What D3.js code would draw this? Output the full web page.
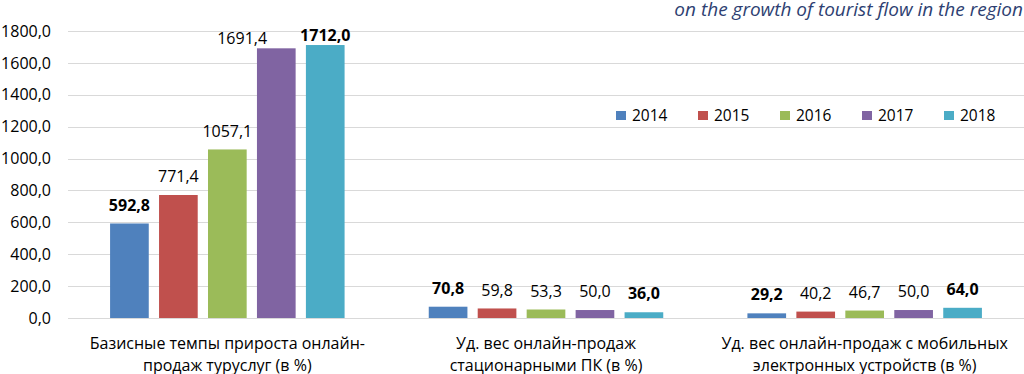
<!DOCTYPE html>
<html><head><meta charset="utf-8">
<script src="https://cdn.jsdelivr.net/npm/d3@7"></script>
<style>body{margin:0;background:#fff}svg{display:block}</style>
</head><body><svg id="c" width="1024" height="374"></svg>
<script>
const categories = [
  ["Базисные темпы прироста онлайн-", "продаж туруслуг (в %)"],
  ["Уд. вес онлайн-продаж", "стационарными ПК (в %)"],
  ["Уд. вес онлайн-продаж с мобильных", "электронных устройств (в %)"]
];
const years = ["2014", "2015", "2016", "2017", "2018"];
const v2014 = [592.8, 70.8, 29.2];
const v2015 = [771.4, 59.8, 40.2];
const v2016 = [1057.1, 53.3, 46.7];
const v2017 = [1691.4, 50.0, 50.0];
const v2018 = [1712.0, 36.0, 64.0];
const yTicks = [0, 200, 400, 600, 800, 1000, 1200, 1400, 1600, 1800];
const colors = ["#4f81bd", "#c0504d", "#9bbb59", "#8064a2", "#4bacc6"];
const note = "on the growth of tourist flow in the region";

const series = [v2014, v2015, v2016, v2017, v2018];
const svg = d3.select("#c");
const font = "Open Sans, sans-serif";
const fmt = v => v.toFixed(1).replace(".", ",");

const x0 = d3.scaleBand().domain(d3.range(categories.length)).range([68, 1024]).padding(0);
const innerW = 5 * 49 - 10.5;
const x1 = d3.scaleBand().domain(d3.range(years.length))
  .range([(x0.bandwidth() - innerW) / 2, (x0.bandwidth() + innerW) / 2]).paddingInner(0.21).paddingOuter(0);
const y = d3.scaleLinear().domain([0, 1800]).range([318, 31]);

// gridlines
svg.append("g").selectAll("line").data(yTicks).join("line")
  .attr("x1", 68).attr("x2", 1024)
  .attr("y1", d => Math.round(y(d)) + 0.5).attr("y2", d => Math.round(y(d)) + 0.5)
  .attr("stroke", "#d9d9d9").attr("stroke-width", 1);

// y axis labels
const yAxis = d3.axisLeft(y).tickValues(yTicks).tickFormat(fmt).tickSize(0).tickPadding(0);
const ga = svg.append("g").attr("transform", "translate(51,0)").call(yAxis);
ga.select(".domain").remove();
ga.selectAll("text").attr("font-family", font).attr("font-size", 16).attr("fill", "#000");

// bars + labels
const labels = [];
series.forEach((vals, si) => {
  const g = svg.append("g");
  vals.forEach((v, ci) => {
    const bx = x0(ci) + x1(si);
    g.append("rect").attr("x", bx).attr("y", y(v)).attr("width", x1.bandwidth())
      .attr("height", y(0) - y(v)).attr("fill", colors[si]);
    const grp = series.map(s => s[ci]);
    const bold = v === d3.max(grp) || v === d3.min(grp);
    const off = v > 1500 ? 10 : 18.5;
    const t = g.append("text").attr("x", bx + x1.bandwidth() / 2).attr("y", y(v) - off)
      .attr("dy", "0.35em")
      .attr("text-anchor", "middle").attr("font-family", font).attr("font-size", 16)
      .attr("font-weight", bold ? "bold" : "normal").attr("fill", "#000").text(fmt(v));
    labels.push({t, ci, si});
  });
});
// resolve overlapping neighbouring labels: shift the earlier one left
labels.forEach(a => {
  const b = labels.find(l => l.ci === a.ci && l.si === a.si + 1);
  if (!b) return;
  const ba = a.t.node().getBBox(), bb = b.t.node().getBBox();
  const vOverlap = ba.y < bb.y + bb.height && bb.y < ba.y + ba.height;
  if (vOverlap && ba.x + ba.width > bb.x - 2) {
    a.t.attr("x", +a.t.attr("x") - (ba.x + ba.width - bb.x) - 33);
  }
});

// category labels
categories.forEach((lines, ci) => {
  const t = svg.append("text").attr("text-anchor", "middle").attr("font-family", font)
    .attr("font-size", 16).attr("fill", "#000");
  lines.forEach((l, li) => {
    t.append("tspan").attr("x", x0(ci) + x0.bandwidth() / 2).attr("y", 348.5 + li * 22).text(l);
  });
});

// legend
const lg = svg.append("g");
years.forEach((yr, i) => {
  const lx = 616 + i * 82;
  lg.append("rect").attr("x", lx).attr("y", 111).attr("width", 10).attr("height", 9).attr("fill", colors[i]);
  lg.append("text").attr("x", lx + 16).attr("y", 115.5).attr("dy", "0.35em").attr("font-family", font).attr("font-size", 15.5)
    .attr("fill", "#000").text(yr);
});

// note
svg.append("text").attr("x", 1023).attr("y", 16).attr("text-anchor", "end")
  .attr("font-family", font).attr("font-style", "italic").attr("font-size", 19)
  .attr("fill", "#2e3f72").text(note);
</script></body></html>
